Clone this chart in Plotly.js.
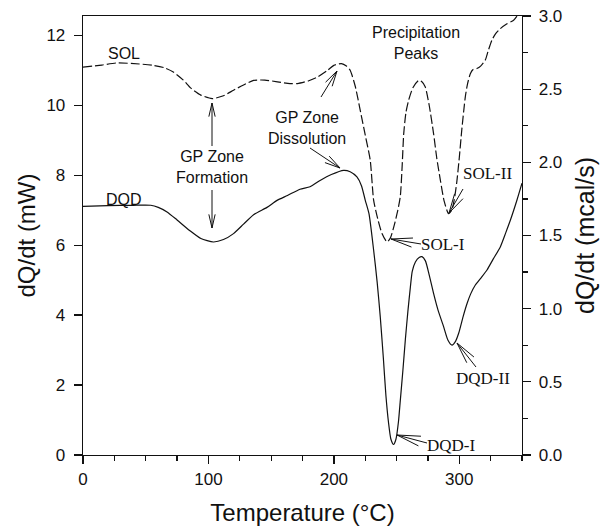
<!DOCTYPE html>
<html>
<head>
<meta charset="utf-8">
<script src="https://cdn.plot.ly/plotly-3.0.1.min.js"></script>
<style>html,body{margin:0;padding:0;background:#fff;}#chart{width:609px;height:529px;}</style>
</head>
<body>
<div id="chart"></div>
<script>
// ---- data ----
const solT = [0, 15, 27, 45, 56, 65, 72, 80, 86, 94, 103, 112, 120, 128, 136, 145, 155, 165, 171, 180, 187, 195, 200, 206, 210, 213, 217, 221, 225, 229, 231.7, 235, 238.4, 242.4, 245, 248, 251, 253, 254.5, 255.7, 257.5, 259.6, 263, 267.6, 270, 272.9, 276, 279.5, 282, 284.9, 288, 291.5, 294, 296, 298, 300, 302, 304.8, 306.5, 308.8, 311, 314, 317, 320.7, 323, 326, 329, 332.7, 338, 343.3, 346];
const solQ = [11.09, 11.15, 11.21, 11.18, 11.14, 11.07, 10.95, 10.72, 10.49, 10.29, 10.19, 10.27, 10.43, 10.58, 10.71, 10.72, 10.67, 10.62, 10.62, 10.70, 10.81, 11.0, 11.14, 11.19, 11.12, 11.0, 10.55, 9.86, 9.15, 8.43, 7.29, 6.75, 6.33, 6.09, 6.2, 6.55, 7.0, 7.4, 8.3, 9.19, 9.8, 10.14, 10.5, 10.71, 10.68, 10.52, 10.0, 9.19, 8.5, 7.86, 7.25, 6.9, 7.0, 7.3, 7.8, 8.5, 9.3, 10.24, 10.6, 10.9, 11.02, 11.05, 11.12, 11.29, 11.55, 11.86, 12.05, 12.19, 12.33, 12.43, 12.55];

const dqdT = [0, 20, 40, 54, 60, 67, 75, 85, 94, 104, 112, 120, 128, 136, 146.7, 154.7, 163, 173, 181, 189, 198, 207.8, 213, 218.4, 222, 225, 228, 231.7, 234.5, 237, 239.5, 241.5, 243.5, 245.5, 247.6, 249.5, 251.5, 253, 255, 257, 259, 261, 262.5, 265, 268, 270.3, 273, 276, 279.5, 283, 287.5, 291, 294.2, 297, 299.5, 303, 306.2, 309, 312.8, 317, 322.1, 327, 332.7, 337, 340.7, 346, 350];
const dqdQ = [7.11, 7.13, 7.14, 7.14, 7.08, 6.95, 6.72, 6.42, 6.19, 6.09, 6.16, 6.33, 6.6, 6.87, 7.08, 7.28, 7.42, 7.6, 7.67, 7.85, 8.02, 8.14, 8.1, 7.95, 7.7, 7.29, 6.9, 5.86, 4.95, 3.95, 2.75, 1.7, 0.95, 0.45, 0.3, 0.45, 0.95, 1.57, 2.4, 3.3, 4.1, 4.8, 5.25, 5.52, 5.65, 5.67, 5.55, 5.15, 4.62, 4.15, 3.67, 3.28, 3.14, 3.25, 3.48, 3.95, 4.33, 4.6, 4.86, 5.05, 5.29, 5.6, 5.95, 6.35, 6.71, 7.29, 7.77];

const xTickVals = [0, 100, 200, 300];
const yTickVals = [0, 2, 4, 6, 8, 10, 12];
const y2TickVals = [0, 0.5, 1.0, 1.5, 2.0, 2.5, 3.0];

// ---- geometry ----
const W = 609, H = 529;
const M = {l: 83, r: 87, t: 16, b: 74};
const PW = W - M.l - M.r, PH = H - M.t - M.b;
const XR = [0, 350], YR = [0, 12.552], Y2R = [0, 3];
const xd = px => XR[0] + (px - M.l) / PW * (XR[1] - XR[0]);
const yd = py => YR[0] + (M.t + PH - py) / PH * (YR[1] - YR[0]);

const INK = '#111';
const shapes = [];
function seg(x0, y0, x1, y1) {
  shapes.push({type: 'line', xref: 'x', yref: 'y', x0: xd(x0), y0: yd(y0), x1: xd(x1), y1: yd(y1),
    line: {color: INK, width: 1}});
}
function arrow(tx, ty, hx, hy, len, ang) {
  seg(tx, ty, hx, hy);
  const a = Math.atan2(ty - hy, tx - hx);
  const r = ang * Math.PI / 180;
  seg(hx, hy, hx + len * Math.cos(a + r), hy + len * Math.sin(a + r));
  seg(hx, hy, hx + len * Math.cos(a - r), hy + len * Math.sin(a - r));
}
// GP zone formation double arrow
arrow(212, 146, 212, 103, 14, 13);
arrow(212, 190, 212, 228, 14, 13);
// GP zone dissolution
arrow(321, 97, 337, 71, 16, 14);
arrow(310, 148, 340, 168, 16, 14);
// SOL-II, SOL-I, DQD-II, DQD-I
arrow(463, 189, 449, 213, 20, 14);
arrow(421, 244, 391, 239, 22, 12);
arrow(476, 367, 457, 343, 22, 12);
arrow(427, 443, 397, 435, 24, 12);

const sans = 'Liberation Sans, Arial, Helvetica, sans-serif';
const serif = 'Liberation Serif, Times New Roman, serif';
function lab(px, py, text, fam, size) {
  return {xref: 'x', yref: 'y', x: xd(px), y: yd(py), text: text, showarrow: false,
    xanchor: 'center', yanchor: 'middle', font: {family: fam, size: size, color: INK}};
}
const annotations = [
  lab(124, 53, 'SOL', sans, 16),
  lab(124, 199, 'DQD', sans, 16),
  lab(212, 167, 'GP Zone<br>Formation', sans, 16),
  lab(307, 128, 'GP Zone<br>Dissolution', sans, 16),
  lab(416, 43, 'Precipitation<br>Peaks', sans, 16),
  lab(487, 173, 'SOL-II', serif, 17),
  lab(443, 244, 'SOL-I', serif, 17),
  lab(483, 378, 'DQD-II', serif, 17),
  lab(451, 445, 'DQD-I', serif, 17)
];

const traces = [
  {x: solT, y: solQ, mode: 'lines', name: 'SOL', line: {color: INK, width: 1.2, dash: '9px,3px', shape: 'spline', smoothing: 0.6}, hoverinfo: 'skip'},
  {x: dqdT, y: dqdQ, mode: 'lines', name: 'DQD', line: {color: INK, width: 1.2, shape: 'spline', smoothing: 0.6}, hoverinfo: 'skip'}
];

const tickFont = {family: sans, size: 17, color: INK};
const layout = {
  width: W, height: H, margin: M, showlegend: false,
  paper_bgcolor: '#fff', plot_bgcolor: '#fff',
  xaxis: {range: XR, tickvals: xTickVals, ticks: 'outside', ticklen: 8, tickwidth: 1.3, tickcolor: INK,
    minor: {dtick: 25, ticks: 'outside', ticklen: 5, tickwidth: 1.2, tickcolor: INK, showgrid: false},
    showline: true, linecolor: INK, linewidth: 1.3, mirror: true, showgrid: false, zeroline: false,
    tickfont: tickFont, title: {text: 'Temperature (°C)', font: {family: sans, size: 24, color: INK}, standoff: 16}},
  yaxis: {range: YR, tickvals: yTickVals, ticks: 'outside', ticklen: 8, tickwidth: 1.3, tickcolor: INK,
    ticklabelstandoff: 5,
    showline: true, linecolor: INK, linewidth: 1.3, showgrid: false, zeroline: false,
    tickfont: tickFont, title: {text: 'dQ/dt (mW)', font: {family: sans, size: 24, color: INK}, standoff: 4}},
  yaxis2: {range: Y2R, tickvals: y2TickVals, tickformat: '.1f', overlaying: 'y', side: 'right',
    ticks: 'outside', ticklen: 8, tickwidth: 1.3, tickcolor: INK, ticklabelstandoff: 4,
    minor: {dtick: 0.25, ticks: 'outside', ticklen: 5, tickwidth: 1.2, tickcolor: INK, showgrid: false},
    showline: true, linecolor: INK, linewidth: 1.3, showgrid: false, zeroline: false,
    tickfont: tickFont, title: {text: 'dQ/dt (mcal/s)', font: {family: sans, size: 25, color: INK}, standoff: 15}},
  shapes: shapes, annotations: annotations
};
// invisible trace to activate yaxis2
traces.push({x: [0], y: [0], yaxis: 'y2', mode: 'markers', marker: {opacity: 0}, hoverinfo: 'skip', showlegend: false});

Plotly.newPlot('chart', traces, layout, {staticPlot: true, displayModeBar: false});
</script>
</body>
</html>
